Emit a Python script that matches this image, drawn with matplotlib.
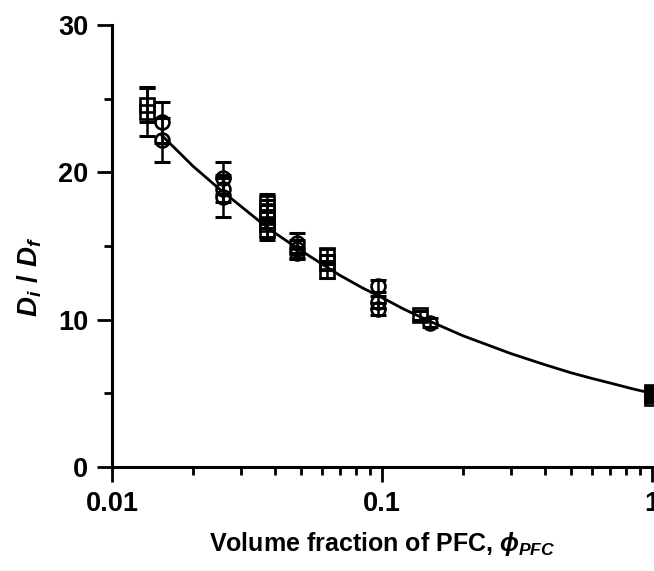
import matplotlib
matplotlib.use('Agg')
import matplotlib.pyplot as plt
from matplotlib.ticker import FixedLocator, NullFormatter, FixedFormatter

# ---- data ----
square_x = [0.0135, 0.0135, 0.0375, 0.0375, 0.0375, 0.0375, 0.0375,
            0.0626, 0.0626, 0.0626, 0.138, 1.0, 1.0, 1.0]
square_y = [24.6, 24.1, 17.9, 17.4, 17.0, 16.5, 16.1,
            14.4, 13.9, 13.3, 10.3, 5.1, 4.9, 4.7]
square_err = [1.2, 1.6, 0.6, 0.7, 0.8, 0.9, 0.7,
              0.4, 0.5, 0.5, 0.3, 0.3, 0.3, 0.3]

circle_x = [0.0153, 0.0153, 0.0258, 0.0258, 0.0258, 0.0484, 0.0484, 0.0484,
            0.097, 0.097, 0.097, 0.151]
circle_y = [23.4, 22.2, 19.6, 18.9, 18.3, 15.2, 14.8, 14.5,
            12.3, 11.2, 10.7, 9.8]
circle_err = [1.4, 1.5, 1.1, 0.9, 1.3, 0.7, 0.6, 0.4,
              0.4, 0.4, 0.4, 0.3]

fit_x = [0.0153, 0.0175, 0.02, 0.025, 0.03, 0.035, 0.04, 0.05, 0.06, 0.07,
         0.085, 0.1, 0.12, 0.15, 0.2, 0.25, 0.3, 0.4, 0.5, 0.6, 0.7, 0.85, 1.0]
fit_y = [22.5, 21.45, 20.4, 18.87, 17.7, 16.71, 15.9, 14.7, 13.77, 13.0,
         12.14, 11.5, 10.73, 9.9, 8.9, 8.24, 7.7, 6.95, 6.4, 6.01, 5.7, 5.3, 5.0]

x_ticks = [0.01, 0.1, 1]
x_tick_labels = ['0.01', '0.1', '1']
y_ticks = [0, 10, 20, 30]
y_minor = [5, 15, 25]

# ---- style ----
plt.rcParams['font.family'] = ['Liberation Sans', 'DejaVu Sans']
plt.rcParams['font.weight'] = 'bold'
plt.rcParams['mathtext.fontset'] = 'custom'
plt.rcParams['mathtext.rm'] = 'Liberation Sans:bold'
plt.rcParams['mathtext.it'] = 'Liberation Sans:italic:bold'
plt.rcParams['mathtext.bf'] = 'Liberation Sans:bold'

fig = plt.figure(figsize=(6.54, 5.71), dpi=100)
ax = fig.add_axes([112/654, 104/571, 540/654, 442/571])

ax.set_xscale('log')
ax.set_xlim(0.01, 1)
ax.set_ylim(0, 30)

ax.plot(fit_x, fit_y, color='black', lw=2.0, zorder=2, clip_on=False)

ekw = dict(fmt='none', ecolor='black', elinewidth=1.8, capsize=5.5, capthick=2.2,
           zorder=3, clip_on=False)
ax.errorbar(square_x, square_y, yerr=square_err, **ekw)
ax.errorbar(circle_x, circle_y, yerr=circle_err, **ekw)

ax.plot(square_x, square_y, linestyle='none', marker='s', ms=10, mfc='none',
        mec='black', mew=1.9, zorder=4, clip_on=False)
ax.plot(circle_x, circle_y, linestyle='none', marker='o', ms=10, mfc='none',
        mec='black', mew=1.9, zorder=4, clip_on=False)

for s in ['top', 'right']:
    ax.spines[s].set_visible(False)
for s in ['left', 'bottom']:
    ax.spines[s].set_linewidth(2.2)

ax.xaxis.set_major_locator(FixedLocator(x_ticks))
ax.xaxis.set_major_formatter(FixedFormatter(x_tick_labels))
minor_x = [m * d for d in (0.01, 0.1) for m in range(2, 10)]
ax.xaxis.set_minor_locator(FixedLocator(minor_x))
ax.xaxis.set_minor_formatter(NullFormatter())
ax.yaxis.set_major_locator(FixedLocator(y_ticks))
ax.yaxis.set_minor_locator(FixedLocator(y_minor))

ax.tick_params(which='major', direction='out', length=11, width=2.0,
               labelsize=19.5, pad=6)
ax.tick_params(which='minor', direction='out', length=6, width=2.0)
for lab in ax.get_xticklabels() + ax.get_yticklabels():
    lab.set_fontweight('bold')

ax.set_xlabel(r'Volume fraction of PFC, $\phi_{PFC}$', fontsize=18,
              fontweight='bold', labelpad=10)
fig.text(30/654, 1 - 277/571, r'$D_i\ /\ D_f$', rotation=90, fontsize=20,
         ha='center', va='center')

fig.savefig('out.png', dpi=100)
